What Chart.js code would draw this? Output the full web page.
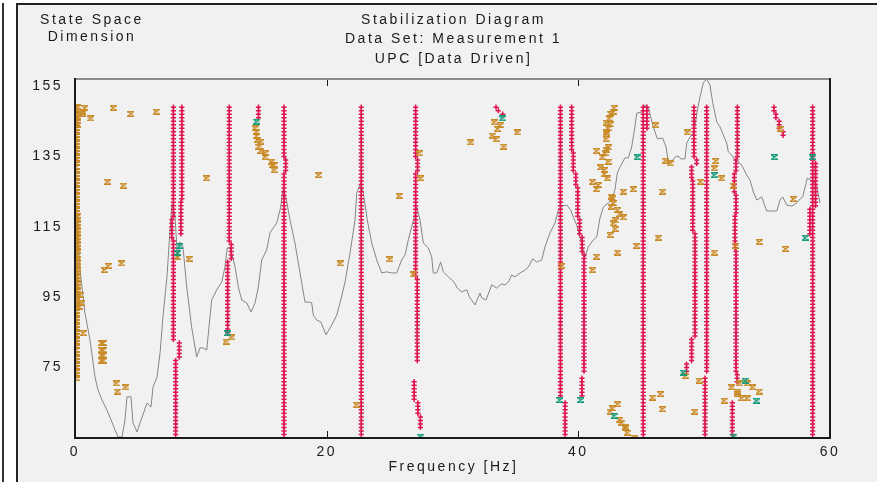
<!DOCTYPE html>
<html>
<head>
<meta charset="utf-8">
<script src="https://cdn.jsdelivr.net/npm/chart.js@4.4.0/dist/chart.umd.min.js"></script>
<style>
  html, body { margin: 0; padding: 0; background: #fff; }
  #wrap { position: relative; width: 877px; height: 482px; overflow: hidden; }
  #edge { position: absolute; left: 2px; top: 3px; width: 2px; height: 479px; background: #333; }
  #panel { position: absolute; left: 16px; top: 3px; width: 861px; height: 479px;
           border-left: 2px solid #222; border-top: 2px solid #222; background: #f1f1f1; }
  #chart { position: absolute; left: 0; top: 0; }
</style>
</head>
<body>
<div id="wrap">
  <div id="edge"></div>
  <div id="panel"></div>
  <canvas id="chart" width="877" height="482"></canvas>
</div>
<script>
// ---- data ----
const titleLines = ['Stabilization Diagram', 'Data Set: Measurement 1', 'UPC [Data Driven]'];
const yTitleLines = ['State Space', 'Dimension'];
const xTitle = 'Frequency [Hz]';
const xTicks = [0, 20, 40, 60];
const yTicks = [75, 95, 115, 135, 155];

// spectrum (ANPSD) trace, scaled onto the order axis
const specHz = [0.04,0.12,0.40,0.79,1.19,1.59,1.83,2.15,2.54,2.78,3.18,3.42,3.74,3.97,4.13,4.45,4.61,4.93,5.17,5.72,6.04,6.20,6.52,6.76,6.99,7.31,7.55,7.71,7.95,8.16,8.34,8.58,8.88,9.27,9.67,9.93,10.17,10.47,10.86,11.26,11.66,11.92,12.10,12.32,12.53,12.72,12.98,13.25,13.65,13.99,14.31,14.57,14.84,15.23,15.50,15.76,16.03,16.35,16.51,16.77,17.09,17.48,17.88,18.28,18.62,18.81,18.94,19.21,19.53,19.95,20.40,20.80,21.12,21.46,21.86,22.25,22.39,22.71,22.91,23.23,23.58,23.98,24.37,24.77,25.17,25.57,25.96,26.23,26.49,26.89,27.16,27.42,27.68,28.08,28.35,28.47,28.75,29.06,29.27,29.67,30.12,30.38,30.73,31.13,31.34,31.79,32.19,32.32,32.66,33.12,33.51,33.91,34.17,34.44,34.70,34.97,35.37,35.76,36.03,36.37,36.69,37.09,37.35,37.75,38.15,38.41,38.68,39.08,39.39,39.60,39.87,40.13,40.40,40.53,40.79,41.19,41.46,41.72,41.99,42.38,42.65,42.91,43.10,43.31,43.71,43.97,44.24,44.50,44.64,45.04,45.30,45.56,45.75,45.96,46.28,46.70,46.97,47.15,47.34,47.68,47.95,48.14,48.48,48.61,48.88,49.19,49.46,49.67,49.93,50.20,50.46,50.68,51.00,51.26,51.52,51.79,51.92,52.19,52.45,52.85,53.11,53.33,53.64,53.91,54.18,54.57,54.97,55.37,55.77,56.03,56.24,56.56,56.96,57.36,57.62,57.83,58.20,58.55,58.81,59.00,59.21];
const specLevel = [118.4,116.9,102.7,90.5,82.9,72.3,68.6,65.8,62.9,60.9,57.3,55.3,55.3,60.1,66.7,66.7,59.3,56.7,59.3,64.9,63.8,69.5,72.3,79.2,89.4,100.8,114.1,121.5,117.8,105.6,110.7,109.3,97.9,86.5,78.0,80.6,80.6,80.0,94.2,97.1,99.3,103.6,109.0,109.0,106.4,103.6,97.9,94.2,93.4,90.8,93.4,97.9,105.6,108.4,113.3,114.7,116.1,120.6,125.5,123.2,116.9,110.4,101.9,93.6,93.6,93.4,89.9,88.5,88.0,84.3,87.1,89.9,94.2,99.3,107.6,116.9,124.6,127.5,124.6,116.9,110.4,105.6,101.9,102.2,101.9,101.9,105.6,107.0,111.3,116.9,120.6,116.9,110.4,109.0,106.4,101.9,101.9,105.0,102.2,100.8,99.3,97.6,96.5,97.1,95.1,92.8,96.2,94.8,94.2,98.5,97.6,98.8,98.5,99.3,101.3,100.8,101.9,102.7,103.6,105.9,105.0,105.6,109.3,113.3,116.1,119.8,120.9,121.2,119.8,117.8,115.5,112.1,108.4,106.4,109.3,111.3,112.1,117.5,120.6,121.8,122.6,125.5,130.3,132.0,134.6,134.6,137.7,143.4,147.3,147.6,149.6,149.0,146.2,143.4,140.0,140.2,137.7,133.4,133.1,134.8,135.1,134.3,134.3,138.8,140.5,141.9,148.2,151.9,155.9,157.0,155.3,150.2,144.8,143.4,141.1,138.8,136.3,135.4,134.0,133.1,131.7,130.0,128.3,124.9,122.6,123.5,119.5,119.5,119.5,122.6,123.5,121.2,120.9,121.8,122.9,123.5,128.9,128.0,127.5,125.5,121.8];

// stable poles: runs of consecutive model orders at one frequency [Hz, fromOrder, toOrder]
const stableRuns = [
  [7.82,118,149],[7.70,112,117],[7.82,83,111],[8.00,56,77],
  [8.49,123,149],[8.42,113,122],[8.29,78,82],
  [12.26,111,149],[12.42,106,110],[12.13,85,105],
  [14.58,146,149],
  [16.61,135,149],[16.74,131,134],[16.61,56,130],
  [22.75,56,149],
  [27.07,135,149],[27.22,131,134],[27.07,101,130],[27.20,77,100],[26.95,66,71],[27.25,62,65],[27.45,58,61],
  [33.46,149,149],[33.64,148,148],[33.99,147,147],
  [38.58,67,149],[38.95,56,65],
  [39.47,137,149],[39.60,131,136],[39.80,127,130],[39.95,118,126],[40.10,113,117],[40.30,108,112],[40.45,74,107],[40.29,67,72],
  [45.16,56,149],[45.45,143,149],
  [49.19,135,149],[49.40,133,134],[49.00,129,132],[49.09,114,128],[49.27,84,113],[49.00,77,83],[48.60,74,76],
  [50.20,74,149],[50.07,56,72],
  [52.64,135,149],[52.53,131,134],[52.40,125,130],[52.53,119,124],[52.45,109,118],[52.53,74,108],[52.62,71,73],[52.24,56,65],
  [55.55,148,149],[55.70,146,147],[55.96,143,145],[56.27,141,142],
  [58.62,56,149],[58.85,121,133],[58.40,113,120]
];

// unstable poles near 0 Hz (runs) and scattered ones
const unstableRuns = [[0.08,72,149],[0.22,96,118],[0.22,144,149]];
const unstablePts = [
  [0.79,148.8],[0.61,147.7],[0.61,147.1],[1.25,145.8],[3.04,148.8],[4.45,147.1],[6.44,147.7],
  [2.60,127.8],[3.84,126.7],[2.33,102.7],[2.65,103.9],[3.71,104.6],
  [2.12,82],[2.25,82],[2.12,80],[2.25,80],[2.12,78.5],[2.25,78.5],[2.12,77],[2.25,77],
  [3.26,70.5],[3.39,68.2],[4.03,69.4],[0.53,93.3],[0.66,84.8],[0.40,95.6],[0.34,92.3],
  [8.16,106.4],[9.06,105.9],[10.46,128.8],[12.0,82.4],[12.45,83.6],
  [14.31,143.0],[14.44,142.0],[14.44,140.8],[14.49,139.7],[14.78,139.2],[14.62,137.8],[14.78,136.6],
  [15.10,135.9],[15.10,134.8],[15.63,133.5],[15.82,132.6],[15.82,131.1],[15.71,132.6],
  [19.37,129.7],[21.06,104.6],[22.39,64.4],[25.77,123.8],[25.03,105.8],[26.89,101.5],[27.34,135.9],[27.47,128.8],
  [31.47,139.0],[33.32,144.7],[33.78,143.9],[33.59,142.8],[33.17,140.9],[33.46,139.9],[34.09,137.8],[35.15,141.8],[38.68,103.9],
  [41.46,136.6],[41.93,134.8],[42.12,135.9],[42.25,136.8],[42.38,137.6],[42.20,139.9],[42.25,141.4],[42.38,143.0],
  [42.52,144.1],[42.20,144.6],[42.46,145.8],[42.57,147.1],[42.78,147.7],[42.86,148.8],[42.20,141.8],[42.07,131.1],
  [42.31,128.8],[42.38,133.5],[41.78,131.9],[42.07,130.0],[41.14,127.8],[41.46,125.7],[41.59,126.9],[42.60,123.6],
  [42.70,123.1],[42.60,120.7],[42.78,121.7],[43.13,119.8],[43.31,118.6],[43.58,117.7],[42.78,116.0],[42.99,116.8],
  [42.92,114.4],[42.52,112.7],[43.13,107.7],[41.46,106.5],[41.14,102.7],[43.58,125.0],[44.37,125.7],[44.64,109.6],
  [46.17,143.9],[46.94,133.8],[47.29,133.0],[46.70,125.0],[46.36,111.9],
  [42.52,62.5],[42.70,63.4],[43.13,64.6],[43.26,60.1],[43.45,59.4],[43.71,58.2],[43.76,57.8],[43.89,56.5],[44.50,55.1],
  [45.91,66.5],[46.55,67.5],[46.68,63.2],
  [48.66,141.8],[49.72,127.8],[50.94,133.7],[50.81,131.6],[51.39,128.8],[52.32,126.7],[50.81,107.7],[52.51,109.6],
  [54.36,110.7],[56.48,108.7],[57.09,122.9],[56.03,142.8],
  [48.53,72.6],[49.59,71.3],[49.27,62.5],[52.19,69.4],[52.66,68.2],[52.79,70.5],[52.66,67.5],[52.98,66.3],
  [53.43,66.3],[53.43,70.5],[53.86,69.4],[54.36,68.2],[51.58,65.6]
];

// poles that are stable in frequency only
const freqStablePts = [
  [8.16,107.6],[8.34,109.6],[12.13,84.8],[14.44,144.9],[27.47,55.4],[33.96,145.8],[38.54,65.8],[40.21,65.8],
  [42.84,61.3],[44.69,134.8],[48.34,73.6],[50.81,129.7],[53.25,71.3],[54.17,65.6],[55.58,134.8],[58.62,134.8],
  [58.04,111.9],[52.35,55.4]
];

// ---- helpers ----
const FONT = '"Liberation Sans", Arial, sans-serif';

function expandRuns(runs) {
  const pts = [];
  runs.forEach(([f, lo, hi]) => {
    for (let n = lo; n <= hi; n++) pts.push({x: f, y: n});
  });
  return pts;
}
const toXY = list => list.map(([f, v]) => ({x: f, y: v}));

function hourglass(color) {
  const c = document.createElement('canvas');
  c.width = 7; c.height = 6;
  const g = c.getContext('2d');
  g.strokeStyle = color;
  g.lineWidth = 1.3;
  g.beginPath();
  g.moveTo(0.5, 0.7); g.lineTo(6.5, 0.7); g.lineTo(0.5, 5.3); g.lineTo(6.5, 5.3); g.closePath();
  g.stroke();
  return c;
}

const orangeMark = hourglass('#c98a26');
const greenMark = hourglass('#139a78');

const framePlugin = {
  id: 'frame',
  beforeDraw(chart) {
    chart.ctx.letterSpacing = '2.5px';
  },
  afterDraw(chart) {
    const {ctx, chartArea: a} = chart;
    const x = chart.scales.x;
    const L = Math.round(a.left), R = Math.round(a.right);
    const T = Math.round(a.top), B = Math.round(a.bottom);
    ctx.save();
    // plot frame: grey top edge, dark left/bottom/right edges
    ctx.fillStyle = '#8c8c8c';
    ctx.fillRect(L - 1, T - 1, R - L + 2, 2);
    ctx.fillStyle = '#1b1b1b';
    ctx.fillRect(L - 1, T - 1, 2, B - T + 2);
    ctx.fillRect(L - 1, B - 1, R - L + 2, 2);
    ctx.fillRect(R - 1, T - 1, 2, B - T + 2);

    // small inward ticks at the inner x values
    xTicks.slice(1, -1).forEach(v => {
      const px = Math.round(x.getPixelForValue(v));
      ctx.fillRect(px, B - 7, 1, 6);
      ctx.fillRect(px, T + 1, 1, 6);
    });

    ctx.fillStyle = '#1b1b1b';
    ctx.font = '14px ' + FONT;
    ctx.letterSpacing = '2.5px';
    ctx.textAlign = 'center';
    ctx.textBaseline = 'middle';
    const cx = (a.left + a.right) / 2;
    titleLines.forEach((t, i) => ctx.fillText(t, cx + 1, 20 + i * 19.5));
    yTitleLines.forEach((t, i) => ctx.fillText(t, 92, 20 + i * 17.5));
    ctx.fillText(xTitle, cx + 1, 467);
    ctx.restore();
  }
};

const ctx = document.getElementById('chart').getContext('2d');
const chart = new Chart(ctx, {
  type: 'scatter',
  data: {
    datasets: [
      {
        type: 'line',
        label: 'Spectrum',
        data: specHz.map((f, i) => ({x: f, y: specLevel[i]})),
        borderColor: '#858585',
        borderWidth: 1,
        pointRadius: 0,
        tension: 0,
        order: 4
      },
      {
        label: 'Stable',
        data: expandRuns(stableRuns),
        pointStyle: 'cross',
        pointRadius: 2.6,
        borderColor: '#de1450',
        borderWidth: 1.5,
        order: 3
      },
      {
        label: 'Unstable',
        data: expandRuns(unstableRuns).concat(toXY(unstablePts)),
        pointStyle: orangeMark,
        order: 2
      },
      {
        label: 'Frequency stable',
        data: toXY(freqStablePts),
        pointStyle: greenMark,
        order: 1
      }
    ]
  },
  options: {
    responsive: false,
    animation: false,
    events: [],
    layout: { padding: { top: 79, right: 47, bottom: 0, left: 0 } },
    plugins: { legend: { display: false }, tooltip: { enabled: false }, title: { display: false } },
    scales: {
      x: {
        type: 'linear',
        min: 0,
        max: 60,
        afterFit: s => { s.height = 44; },
        afterBuildTicks: s => { s.ticks = xTicks.map(v => ({value: v})); },
        grid: { display: false, drawTicks: false },
        border: { display: false },
        ticks: { color: '#1b1b1b', font: { family: FONT, size: 14 }, padding: 6, maxRotation: 0 }
      },
      y: {
        type: 'linear',
        min: 55,
        max: 157,
        afterFit: s => { s.width = 75; },
        afterBuildTicks: s => { s.ticks = yTicks.map(v => ({value: v})); },
        grid: { display: false, drawTicks: false },
        border: { display: false },
        ticks: { color: '#1b1b1b', font: { family: FONT, size: 14 }, padding: 12 }
      }
    }
  },
  plugins: [framePlugin]
});
</script>
</body>
</html>
